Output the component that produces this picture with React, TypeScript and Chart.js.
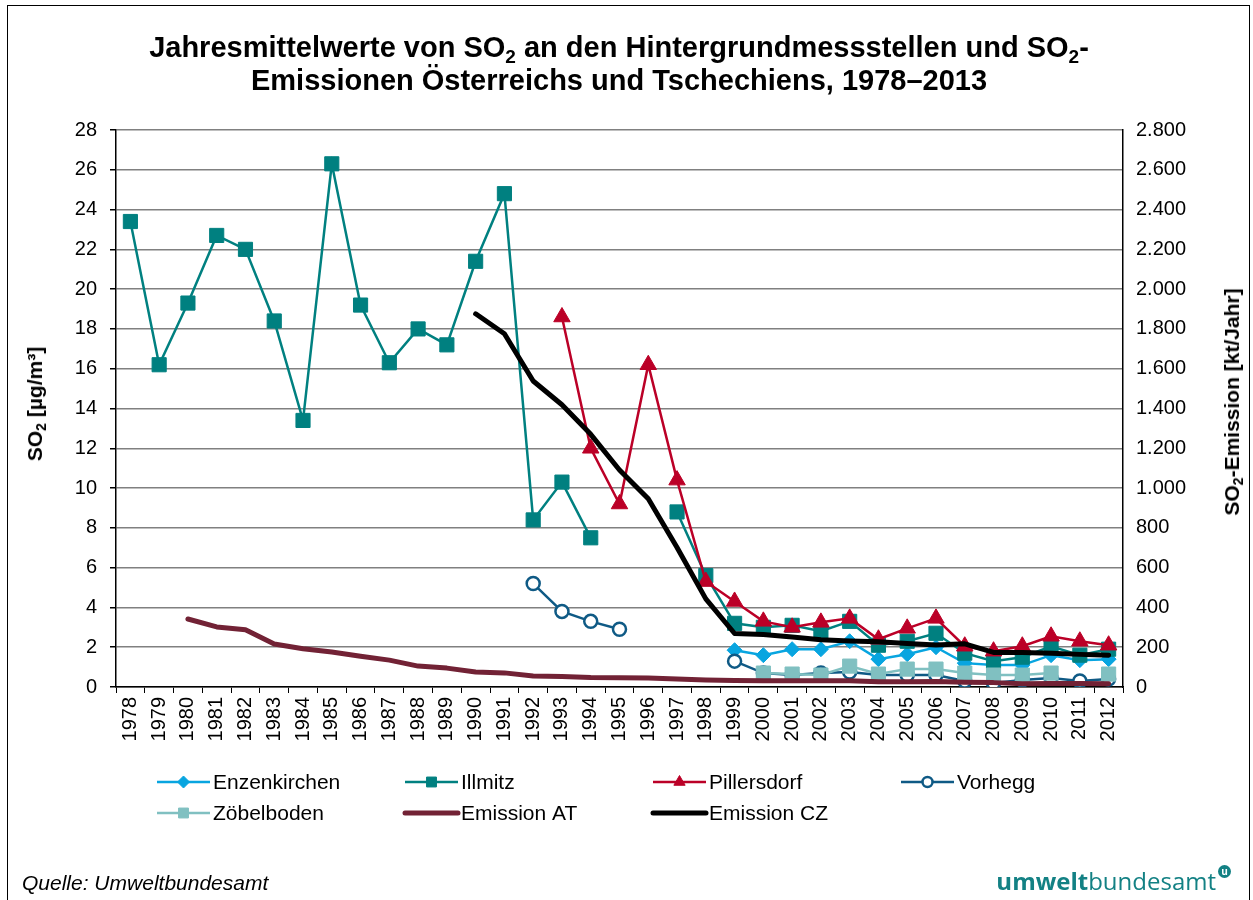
import React, { useEffect, useRef } from 'react';
import { Chart, registerables } from 'chart.js';
import { drawPoint } from 'chart.js/helpers';

Chart.register(...registerables);

const years = [
  '1978', '1979', '1980', '1981', '1982', '1983', '1984', '1985', '1986', '1987',
  '1988', '1989', '1990', '1991', '1992', '1993', '1994', '1995', '1996', '1997',
  '1998', '1999', '2000', '2001', '2002', '2003', '2004', '2005', '2006', '2007',
  '2008', '2009', '2010', '2011', '2012',
];

// SO2 annual means [µg/m³]
const enzenkirchen = [
  null, null, null, null, null, null, null, null, null, null,
  null, null, null, null, null, null, null, null, null, null,
  null, 1.85, 1.6, 1.9, 1.9, 2.3, 1.4, 1.65, 2.0, 1.2,
  1.1, 1.1, 1.6, 1.35, 1.4,
];
const illmitz = [
  23.4, 16.2, 19.3, 22.7, 22.0, 18.4, 13.4, 26.3, 19.2, 16.3,
  18.0, 17.2, 21.4, 24.8, 8.4, 10.3, 7.5, null, null, 8.8,
  5.6, 3.2, 3.0, 3.1, 2.8, 3.3, 2.1, 2.3, 2.7, 1.7,
  1.3, 1.5, 2.05, 1.6, 1.9,
];
const pillersdorf = [
  null, null, null, null, null, null, null, null, null, null,
  null, null, null, null, null, 18.6, 12.0, 9.2, 16.2, 10.4,
  5.3, 4.3, 3.3, 3.0, 3.25, 3.45, 2.4, 2.95, 3.45, 2.05,
  1.8, 2.05, 2.55, 2.3, 2.1,
];
const vorhegg = [
  null, null, null, null, null, null, null, null, null, null,
  null, null, null, null, 5.2, 3.8, 3.3, 2.9, null, null,
  null, 1.3, 0.7, 0.6, 0.7, 0.75, 0.6, 0.6, 0.6, 0.3,
  0.2, 0.35, 0.45, 0.3, 0.4,
];
const zoebelboden = [
  null, null, null, null, null, null, null, null, null, null,
  null, null, null, null, null, null, null, null, null, null,
  null, null, 0.7, 0.65, 0.6, 1.05, 0.65, 0.9, 0.9, 0.7,
  0.6, 0.6, 0.7, null, 0.65,
];
// SO2 emissions [kt/Jahr]
const emissionAT = [
  null, null, 342, 302, 288, 216, 192, 176, 155, 135,
  105, 95, 75, 71, 55, 53, 48, 47, 45, 40,
  35, 33, 32, 32, 31, 32, 27, 26, 28, 24,
  22, 16, 17, 17, 16,
];
const emissionCZ = [
  null, null, null, null, null, null, null, null, null, null,
  null, null, 1876, 1776, 1538, 1419, 1270, 1091, 946, 701,
  443, 269, 264, 251, 237, 231, 227, 219, 211, 217,
  174, 173, 170, 164, 160,
];

const FONT = '"Liberation Sans", Arial, Helvetica, sans-serif';

const legendRadius = [6, 7, 6.5, 5, 7, 0, 0];

const legendPlugin = {
  id: 'customLegend',
  afterDraw(chart: any) {
    const ctx = chart.ctx;
    chart.data.datasets.forEach((ds: any, i: number) => {
      const col = i % 4;
      const row = Math.floor(i / 4);
      const x0 = 157 + col * 248;
      const y = 782 + row * 31;
      ctx.save();
      ctx.strokeStyle = ds.borderColor;
      ctx.lineWidth = ds.borderWidth;
      ctx.lineCap = ds.borderWidth > 3 ? 'round' : 'butt';
      ctx.beginPath();
      ctx.moveTo(x0, y);
      ctx.lineTo(x0 + 53, y);
      ctx.stroke();
      if (legendRadius[i] > 0) {
        ctx.fillStyle = ds.pointBackgroundColor;
        ctx.strokeStyle = ds.pointBorderColor;
        ctx.lineWidth = ds.pointBorderWidth;
        drawPoint(ctx, {
          pointStyle: ds.pointStyle,
          radius: legendRadius[i],
          borderWidth: ds.pointBorderWidth,
          rotation: 0,
        } as any, x0 + 26.5, y);
      }
      ctx.fillStyle = '#000';
      ctx.font = `21px ${FONT}`;
      ctx.textBaseline = 'middle';
      ctx.textAlign = 'left';
      ctx.fillText(ds.label, x0 + 56, y + 1);
      ctx.restore();
    });
  },
};

function fmtDE(v: number) {
  return String(Math.round(v)).replace(/\B(?=(\d{3})+(?!\d))/g, '.');
}

const Sub = ({ children, size, top }: any) => (
  <span style={{ fontSize: size, position: 'relative', top, lineHeight: 0 }}>{children}</span>
);

export default function App() {
  const ref = useRef<HTMLCanvasElement>(null);

  useEffect(() => {
    if (!ref.current) return;
    Chart.defaults.font.family = FONT;
    Chart.defaults.font.size = 20;
    Chart.defaults.color = '#000';

    const station = (label: string, data: any[], color: string, style: string, radius: number, order: number, extra: any = {}) => ({
      label,
      data,
      yAxisID: 'y',
      borderColor: color,
      backgroundColor: color,
      borderWidth: 2.5,
      pointStyle: style,
      pointRadius: radius,
      pointBackgroundColor: color,
      pointBorderColor: color,
      pointBorderWidth: 1,
      tension: 0,
      spanGaps: false,
      order,
      ...extra,
    });

    const chart = new Chart(ref.current, {
      type: 'line',
      data: {
        labels: years,
        datasets: [
          station('Enzenkirchen', enzenkirchen, '#08a5e0', 'rectRot', 7.5, 6),
          station('Illmitz', illmitz, '#008080', 'rect', 10, 5),
          station('Pillersdorf', pillersdorf, '#bb0027', 'triangle', 9.5, 4),
          station('Vorhegg', vorhegg, '#0f5a85', 'circle', 6.5, 3, {
            pointBackgroundColor: '#ffffff',
            pointBorderWidth: 2.5,
          }),
          station('Zöbelboden', zoebelboden, '#80c0c1', 'rect', 10, 2),
          {
            label: 'Emission AT',
            data: emissionAT,
            yAxisID: 'y1',
            borderColor: '#722235',
            backgroundColor: '#722235',
            borderWidth: 5,
            pointRadius: 0,
            borderCapStyle: 'round',
            borderJoinStyle: 'round',
            tension: 0,
            order: 1,
          },
          {
            label: 'Emission CZ',
            data: emissionCZ,
            yAxisID: 'y1',
            borderColor: '#000000',
            backgroundColor: '#000000',
            borderWidth: 5,
            pointRadius: 0,
            borderCapStyle: 'round',
            borderJoinStyle: 'round',
            tension: 0,
            order: 0,
          },
        ] as any,
      },
      options: {
        responsive: false,
        animation: false,
        devicePixelRatio: 1,
        layout: { padding: { top: 130, left: 0, right: 0, bottom: 0 } },
        plugins: {
          legend: { display: false },
          title: { display: false },
          tooltip: { enabled: false },
        },
        scales: {
          x: {
            type: 'category',
            offset: true,
            grid: {
              display: true,
              drawOnChartArea: false,
              drawTicks: true,
              tickLength: 6,
              tickColor: '#000',
              offset: true,
            },
            border: { display: true, color: '#000', width: 1.5 },
            ticks: {
              autoSkip: false,
              minRotation: 90,
              maxRotation: 90,
              padding: 4,
              font: { size: 20 },
              color: '#000',
            },
            afterFit: (s: any) => { s.height = 213; },
          },
          y: {
            type: 'linear',
            position: 'left',
            min: 0,
            max: 28,
            ticks: { stepSize: 2, padding: 13, font: { size: 20 }, color: '#000' },
            grid: {
              color: '#808080',
              lineWidth: 1.5,
              drawTicks: true,
              tickLength: 6,
              tickColor: '#000',
            },
            border: { display: true, color: '#000', width: 1.5 },
            afterFit: (s: any) => { s.width = 116; },
          },
          y1: {
            type: 'linear',
            position: 'right',
            min: 0,
            max: 2800,
            ticks: {
              stepSize: 200,
              padding: 13,
              font: { size: 20 },
              color: '#000',
              callback: (v: any) => fmtDE(Number(v)),
            },
            grid: { drawOnChartArea: false, drawTicks: false },
            border: { display: true, color: '#000', width: 1.5 },
            afterFit: (s: any) => { s.width = 130; },
          },
        },
      } as any,
      plugins: [legendPlugin],
    });
    return () => chart.destroy();
  }, []);

  return (
    <div
      style={{
        position: 'absolute',
        left: 0,
        top: 0,
        width: 1253,
        height: 900,
        overflow: 'hidden',
        background: '#fff',
        fontFamily: FONT,
        color: '#000',
      }}
    >
      <div
        style={{
          position: 'absolute',
          left: 7,
          top: 5,
          width: 1243,
          height: 900,
          borderLeft: '1.5px solid #000',
          borderTop: '1.5px solid #000',
          borderRight: '1.5px solid #000',
          boxSizing: 'border-box',
        }}
      />
      <canvas
        ref={ref}
        width={1253}
        height={900}
        style={{ position: 'absolute', left: 0, top: 0, width: 1253, height: 900 }}
      />
      <div
        style={{
          position: 'absolute',
          left: 0,
          top: 31,
          width: 1238,
          textAlign: 'center',
          fontWeight: 'bold',
          fontSize: 29,
          lineHeight: '33px',
          whiteSpace: 'nowrap',
        }}
      >
        Jahresmittelwerte von SO<Sub size={19} top={6}>2</Sub> an den Hintergrundmessstellen und SO<Sub size={19} top={6}>2</Sub>-
        <br />
        Emissionen Österreichs und Tschechiens, 1978–2013
      </div>
      <div
        style={{
          position: 'absolute',
          left: 35,
          top: 404,
          transform: 'translate(-50%, -50%) rotate(-90deg)',
          whiteSpace: 'nowrap',
          fontWeight: 'bold',
          fontSize: 21,
          lineHeight: '24px',
        }}
      >
        SO<Sub size={14} top={4}>2</Sub> [µg/m³]
      </div>
      <div
        style={{
          position: 'absolute',
          left: 1232,
          top: 402,
          transform: 'translate(-50%, -50%) rotate(-90deg)',
          whiteSpace: 'nowrap',
          fontWeight: 'bold',
          fontSize: 21,
          lineHeight: '24px',
        }}
      >
        SO<Sub size={14} top={4}>2</Sub>-Emission [kt/Jahr]
      </div>
      <div
        style={{
          position: 'absolute',
          left: 22,
          top: 871,
          fontStyle: 'italic',
          fontSize: 21,
          lineHeight: '24px',
          whiteSpace: 'nowrap',
        }}
      >
        Quelle: Umweltbundesamt
      </div>
      <div
        style={{
          position: 'absolute',
          right: 37,
          top: 867,
          fontFamily: '"Open Sans", "Noto Sans", sans-serif',
          fontSize: 24,
          lineHeight: '28px',
          color: '#138184',
          whiteSpace: 'nowrap',
        }}
      >
        <span style={{ fontWeight: 700 }}>umwelt</span>
        <span style={{ fontWeight: 400 }}>bundesamt</span>
      </div>
      <div
        style={{
          position: 'absolute',
          left: 1218,
          top: 865,
          width: 13,
          height: 13,
          borderRadius: '50%',
          background: '#138184',
          color: '#fff',
          fontFamily: '"Open Sans", sans-serif',
          fontWeight: 700,
          fontSize: 10,
          lineHeight: '12px',
          textAlign: 'center',
        }}
      >
        u
      </div>
    </div>
  );
}
